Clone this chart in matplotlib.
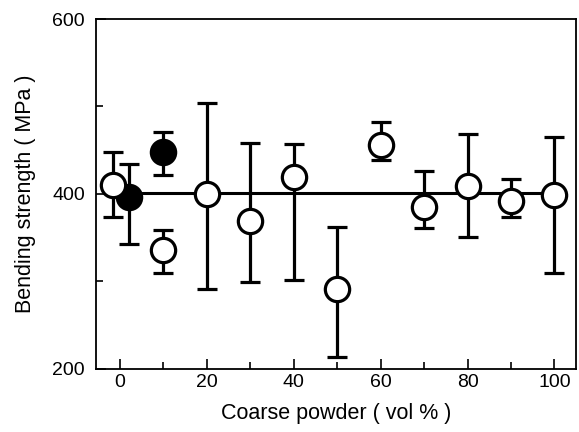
import numpy as np
import matplotlib
matplotlib.use("Agg")
import matplotlib.pyplot as plt
from matplotlib.ticker import MultipleLocator

plt.rcParams['font.family'] = ['Liberation Sans', 'DejaVu Sans']

# open circles
open_x = [-1.5, 10, 20, 30, 40, 50, 60, 70, 80, 90, 100]
open_y = [410, 336, 400, 369, 419, 291, 456, 385, 409, 392, 399]
open_hi = [448, 359, 504, 458, 457, 362, 482, 426, 469, 417, 465]
open_lo = [374, 310, 291, 299, 302, 214, 439, 361, 351, 374, 310]

# filled circles
fill_x = [2, 10]
fill_y = [397, 448]
fill_hi = [434, 471]
fill_lo = [343, 422]

mean_x = [0, 100]
mean_y = [401, 401]

fig = plt.figure(figsize=(5.79, 4.32), dpi=100)
ax = fig.add_axes([0.166, 0.146, 0.829, 0.81])

ax.plot(mean_x, mean_y, color='black', lw=2.2, zorder=1)

def draw(xs, ys, hi, lo, face, z):
    err = [np.array(ys) - np.array(lo), np.array(hi) - np.array(ys)]
    ax.errorbar(xs, ys, yerr=err, fmt='o', ms=17.5, mfc=face, mec='black', mew=2.3,
                ecolor='black', elinewidth=2.3, capsize=7, capthick=2.3, zorder=z)

draw(fill_x, fill_y, fill_hi, fill_lo, 'black', 2)
draw(open_x, open_y, open_hi, open_lo, 'white', 3)

ax.set_xlim(-5.5, 105)
ax.set_ylim(200, 600)
ax.xaxis.set_major_locator(MultipleLocator(20))
ax.xaxis.set_minor_locator(MultipleLocator(10))
ax.yaxis.set_major_locator(MultipleLocator(200))
ax.yaxis.set_minor_locator(MultipleLocator(100))
ax.tick_params(which='both', direction='in', labelsize=14, width=1.2)
ax.tick_params(axis='y', pad=8)
ax.tick_params(which='major', length=7)
ax.tick_params(which='minor', length=5)
for s in ax.spines.values():
    s.set_linewidth(1.3)

ax.set_xlabel('Coarse powder ( vol % )', fontsize=15.5, labelpad=9)
ax.set_ylabel('Bending strength ( MPa )', fontsize=15.5, labelpad=12)

fig.savefig('out.png', dpi=100)
